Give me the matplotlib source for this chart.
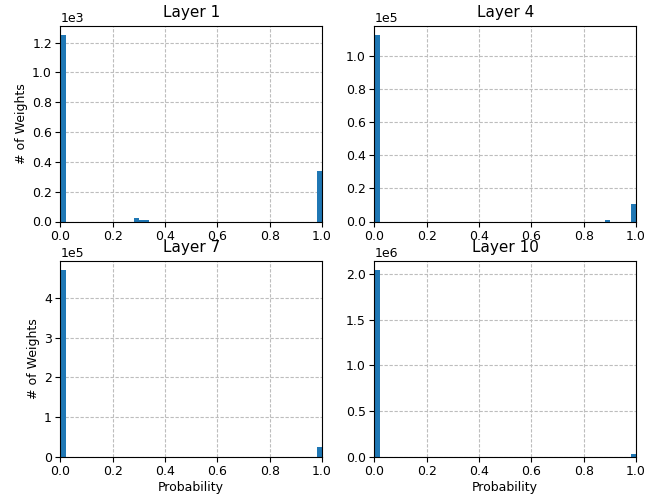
import numpy as np
import matplotlib
matplotlib.use("Agg")
import matplotlib.pyplot as plt

# histogram of per-weight probabilities, 50 bins on [0, 1]
edges = np.linspace(0, 1, 51)

layer_names = ["Layer 1", "Layer 4", "Layer 7", "Layer 10"]

# bin start -> count (only non-empty bins)
l1_bins = [0.00, 0.28, 0.30, 0.32, 0.98]
l1_counts = [1251, 22, 9, 9, 337]

l4_bins = [0.00, 0.88, 0.98]
l4_counts = [112900, 800, 10700]

l7_bins = [0.00, 0.98]
l7_counts = [471600, 24400]

l10_bins = [0.00, 0.98]
l10_counts = [2044000, 29000]

data = [(l1_bins, l1_counts), (l4_bins, l4_counts),
        (l7_bins, l7_counts), (l10_bins, l10_counts)]

plt.rcParams['font.size'] = 9
plt.rcParams['axes.titlesize'] = 11

fig = plt.figure(figsize=(6.53, 4.97), dpi=100)
W, H = 653.0, 497.0
boxes = [(60.3, 25.7), (374.3, 25.7), (60.3, 260.7), (374.3, 260.7)]
aw, ah = 261.7, 195.8

for i, (name, (b, c)) in enumerate(zip(layer_names, data)):
    x0, y0 = boxes[i]
    ax = fig.add_axes([x0 / W, 1 - (y0 + ah) / H, aw / W, ah / H])
    centers = np.array(b) + 0.01
    ax.hist(centers, bins=edges, weights=c, color="#1f77b4")
    ax.set_xlim(0, 1)
    ax.set_title(name, pad=6)
    ax.grid(True, linestyle="--", dashes=(3, 1.5), color="#bdbdbd", linewidth=0.8)
    ax.set_axisbelow(True)
    ax.ticklabel_format(axis="y", style="sci", scilimits=(0, 0))
    ax.tick_params(length=3.5, pad=2.5)
    if i % 2 == 0:
        ax.set_ylabel("# of Weights", labelpad=3)
    if i >= 2:
        ax.set_xlabel("Probability", labelpad=2)

fig.savefig("out.png", dpi=100)
